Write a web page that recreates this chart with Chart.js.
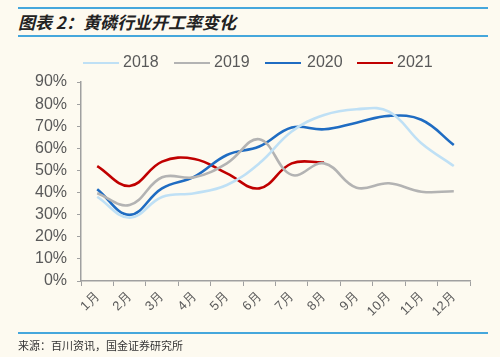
<!DOCTYPE html>
<html>
<head>
<meta charset="utf-8">
<script src="https://cdn.jsdelivr.net/npm/chart.js@4"></script>
<style>
html,body{margin:0;padding:0;background:#fdfaf0;}
#wrap{position:relative;width:500px;height:357px;overflow:hidden;background:#fdfaf0;}
#c{position:absolute;left:0;top:0;}
.hl{position:absolute;left:18px;width:470px;height:2px;background:#45a7dc;}
#title{position:absolute;left:18px;top:9px;font-family:"Noto Sans CJK SC";font-size:17px;font-style:italic;font-weight:bold;color:#222;line-height:26px;}
#foot{position:absolute;left:18px;top:337px;font-family:"Noto Sans CJK SC";font-size:11px;color:#333;line-height:16px;}
#legend{position:absolute;top:52px;left:0;width:500px;height:20px;font-family:"Liberation Sans",Arial,sans-serif;font-size:16px;color:#595959;}
.li{position:absolute;top:0;line-height:20px;}
.ll{position:absolute;top:10px;height:2px;}
</style>
</head>
<body>
<div id="wrap">
<div class="hl" style="top:7px"></div>
<div class="hl" style="top:35px"></div>
<div id="title">图表 2：黄磷行业开工率变化</div>
<canvas id="c" width="500" height="357"></canvas>
<div id="legend"></div>
<div class="hl" style="top:332px"></div>
<div id="foot">来源：百川资讯，国金证券研究所</div>
</div>
<script>
const months = ["1月","2月","3月","4月","5月","6月","7月","8月","9月","10月","11月","12月"];
const s2018 = [38.1, 28.6, 38.0, 39.7, 43.4, 53.2, 67.6, 75.1, 77.7, 76.6, 62.3, 52.0];
const s2019 = [39.7, 34.4, 46.9, 46.9, 53.2, 64.1, 48.0, 53.2, 42.2, 44.2, 40.4, 40.6];
const s2020 = [41.5, 29.9, 41.9, 47.2, 57.0, 60.8, 69.4, 68.6, 71.6, 74.7, 72.9, 61.5];
const s2021 = [52.0, 43.0, 54.0, 55.2, 48.7, 41.9, 53.2, 53.6];
const seriesNames = ["2018","2019","2020","2021"];
const seriesColors = ["#bfe0f5","#b3b3b3","#1f6cc2","#c00000"];
const yTicks = [0,10,20,30,40,50,60,70,80,90];

// legend in HTML
const legendPos = [[83,123],[174,214],[265,307],[357,397]];
const lg = document.getElementById('legend');
seriesNames.forEach((n,i)=>{
  const l = document.createElement('div'); l.className='ll';
  l.style.left = legendPos[i][0]+'px'; l.style.width='36px'; l.style.background=seriesColors[i];
  lg.appendChild(l);
  const t = document.createElement('div'); t.className='li';
  t.style.left = legendPos[i][1]+'px'; t.textContent = n;
  lg.appendChild(t);
});

const allData = [s2018, s2019, s2020, s2021];
new Chart(document.getElementById('c'), {
  type: 'line',
  data: {
    labels: months,
    datasets: seriesNames.map((n,i)=>({
      label: n,
      data: allData[i],
      borderColor: seriesColors[i],
      backgroundColor: seriesColors[i],
      borderWidth: 2.6,
      pointRadius: 0,
      tension: 0.4,
      fill: false
    }))
  },
  options: {
    responsive: false,
    animation: false,
    devicePixelRatio: 1,
    layout: { padding: { left: 0, right: 30, top: 82, bottom: 0 } },
    plugins: { legend: { display: false }, tooltip: { enabled: false } },
    scales: {
      x: {
        offset: true,
        afterFit: s => { s.height = 76; },
        grid: { offset: true, drawOnChartArea: false, drawTicks: true, tickLength: 5, color: '#a0a0a0' },
        border: { color: '#a0a0a0', width: 1.5 },
        ticks: { autoSkip: false, minRotation: 45, maxRotation: 45, padding: 3, color: '#595959', font: { family: '"Liberation Sans", Arial, sans-serif', size: 13 } }
      },
      y: {
        min: 0, max: 90,
        afterFit: s => { s.width = 81; },
        afterBuildTicks: s => { s.ticks = yTicks.map(v => ({ value: v })); },
        grid: { drawOnChartArea: false, drawTicks: true, tickLength: 4, color: '#a0a0a0' },
        border: { color: '#a0a0a0', width: 1.5 },
        ticks: { autoSkip: false, stepSize: 10, padding: 10, color: '#595959', font: { family: '"Liberation Sans", Arial, sans-serif', size: 16 }, callback: v => v + '%' }
      }
    }
  }
});
</script>
</body>
</html>
